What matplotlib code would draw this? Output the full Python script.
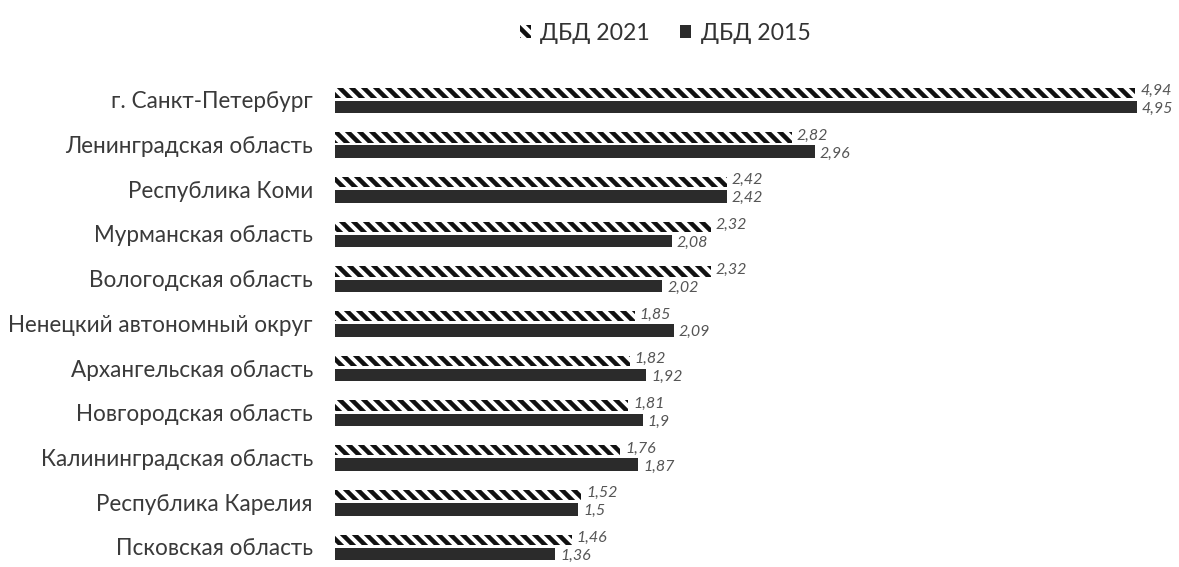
import numpy as np
import matplotlib
matplotlib.use("Agg")
import matplotlib.pyplot as plt
from matplotlib.patches import Patch

plt.rcParams["font.family"] = ["Lato", "DejaVu Sans"]
plt.rcParams["hatch.color"] = "#111111"
plt.rcParams["hatch.linewidth"] = 4.5

regions = [
    "г. Санкт-Петербург",
    "Ленинградская область",
    "Республика Коми",
    "Мурманская область",
    "Вологодская область",
    "Ненецкий автономный округ",
    "Архангельская область",
    "Новгородская область",
    "Калининградская область",
    "Республика Карелия",
    "Псковская область",
]
dbd_2021 = [4.94, 2.82, 2.42, 2.32, 2.32, 1.85, 1.82, 1.81, 1.76, 1.52, 1.46]
dbd_2015 = [4.95, 2.96, 2.42, 2.08, 2.02, 2.09, 1.92, 1.90, 1.87, 1.50, 1.36]


def fmt(v):
    s = f"{v:.2f}".rstrip("0").rstrip(".")
    return s.replace(".", ",")


W, H, DPI = 1179, 567, 72
fig = plt.figure(figsize=(W / DPI, H / DPI), dpi=DPI)
ax = fig.add_axes([335 / W, 0.0, 1 - 335 / W, 494 / H])

y = np.arange(len(regions))
h21, h15 = 0.23, 0.28
ax.barh(y - 0.16, dbd_2021, height=h21, color="white", hatch="\\\\", linewidth=0)
ax.barh(y + 0.16, dbd_2015, height=h15, color="#2b2b2b", linewidth=0)

for yi, a, b in zip(y, dbd_2021, dbd_2015):
    ax.annotate(fmt(a), (a, yi - 0.2), xytext=(5, 0), textcoords="offset points",
                va="center", ha="left", fontsize=16, color="#555555", style="italic")
    ax.annotate(fmt(b), (b, yi + 0.2), xytext=(5, 0), textcoords="offset points",
                va="center", ha="left", fontsize=16, color="#555555", style="italic")

ax.set_yticks(y)
ax.set_yticklabels(regions, fontsize=22.5, color="#3a3a3a")
ax.tick_params(axis="y", length=0, pad=22)
ax.set_xticks([])
ax.set_xlim(0, 5.21)
ax.set_ylim(10.45, -0.6)
for sp in ax.spines.values():
    sp.set_visible(False)

handles = [Patch(facecolor="white", hatch="\\\\", linewidth=0, label="ДБД 2021"),
           Patch(facecolor="#2b2b2b", linewidth=0, label="ДБД 2015")]
fig.legend(handles=handles, loc="center", bbox_to_anchor=(665 / W, 1 - 33 / H),
           ncol=2, frameon=False, fontsize=23, handlelength=0.5, handleheight=0.5,
           handletextpad=0.4, columnspacing=1.3, labelcolor="#333333")

fig.savefig("out.png", dpi=DPI, facecolor="white")
